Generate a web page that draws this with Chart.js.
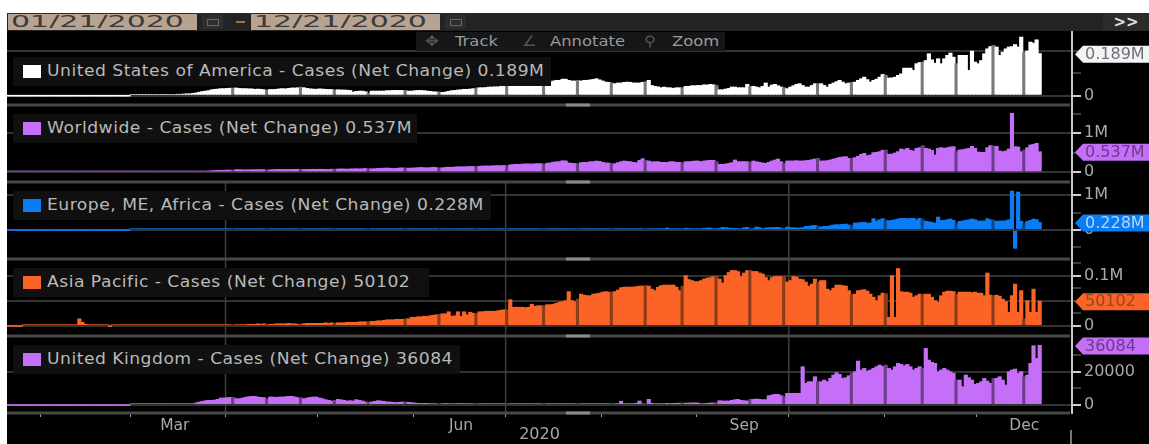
<!DOCTYPE html>
<html>
<head>
<meta charset="utf-8">
<script src="https://cdn.jsdelivr.net/npm/chart.js@4"></script>
<style>
html, body { margin: 0; padding: 0; background: #fff; overflow: hidden; }
#wrap { position: relative; width: 1149px; height: 444px; filter: blur(0.55px); font-family: "DejaVu Sans", sans-serif; }
#fundo { position: absolute; left: 7px; top: 13px; width: 1142px; height: 431px; background: #000; }
canvas { position: absolute; left: 0; top: 0; }
#barra { position: absolute; left: 7px; top: 13px; width: 1142px; height: 18px; background: #232323; border-top: 1px solid #4a2020; box-sizing: border-box; }
.data { position: absolute; top: 14px; height: 16px; background: #b7a390; overflow: hidden; }
.data span { position: absolute; left: 3px; top: -1px; font-size: 15px; line-height: 18px; color: #3a3a3a; transform: scaleX(2); transform-origin: left; white-space: nowrap; }
.cal { position: absolute; top: 15px; width: 21px; height: 14px; background: #2e2e2e; }
.cal i { position: absolute; left: 5px; top: 4px; width: 10px; height: 5px; border: 1px solid #666; }
#traco { position: absolute; left: 236px; top: 21px; width: 9px; height: 2px; background: #a8703a; }
#mais { position: absolute; left: 1103px; top: 14px; width: 46px; height: 17px; background: #2b2b2b; color: #ddd; font-size: 15px; font-weight: bold; line-height: 16px; text-align: center; }
#ferramentas { position: absolute; left: 416px; top: 32px; width: 309px; height: 19px; background: #161616; color: #9a9a9a; font-size: 14.5px; line-height: 19px; }
#ferramentas span { position: absolute; white-space: nowrap; transform: scaleX(1.13); transform-origin: left; }
#ferramentas .ic { color: #555; }
.legenda { position: absolute; left: 13px; height: 29px; background: #101010; color: #b9b9b9; font-size: 15px; line-height: 29px; letter-spacing: 0.42px; white-space: nowrap; }
.legenda b { position: absolute; left: 10px; top: 8px; width: 18px; height: 13px; }
.legenda span { position: absolute; left: 34px; transform: scaleX(1.145); transform-origin: left; }
</style>
</head>
<body>
<div id="wrap">
  <div id="fundo"></div>
  <canvas id="grafico" width="1149" height="444"></canvas>
  <div id="barra"></div>
  <div class="data" style="left:8px;width:189px"><span>01/21/2020</span></div>
  <div class="cal" style="left:202px"><i></i></div>
  <div id="traco"></div>
  <div class="data" style="left:251px;width:189px"><span>12/21/2020</span></div>
  <div class="cal" style="left:445px"><i></i></div>
  <div id="mais">&gt;&gt;</div>
  <div id="ferramentas">
    <span class="ic" style="left:9px">✥</span><span style="left:39px">Track</span>
    <span class="ic" style="left:106px">∠</span><span style="left:134px">Annotate</span>
    <span class="ic" style="left:228px">⚲</span><span style="left:256px">Zoom</span>
  </div>
  <div id="legendas"></div>
</div>
<script>
// um valor por dia, de 21/01/2020 a 21/12/2020
const usaCasos = [ // milhares
  0,0,0,0,0,0,0,0,0,0, 0,0,0,0,0,0,0,0,0,0, 0,0,0,0,0,0,0,0,0,0, 0,0,0,0,0,0,0,0,0,0,
  1,1,1,1,1,1,1,1,2,2, 2,2,3,5,6,8,8,9,10,10, 12,14,17,20,22,24,28,30,31,33,
  33,34,35,36,36,34,33,33,32,32, 30,31,30,28,27,29,29,30,32,33, 32,34,36,36,37,40,37,34,32,31,
  30,32,31,30,29,29,27,28,27,27, 26,25,18,21,22,22,19,13,22,22, 22,22,22,24,24,25,25,25,25,25,
  22,22,24,25,25,24,22,21,19,18, 18,16,18,21,24,25,27,28,30,30, 31,33,36,37,37,38,40,40,41,41,
  43,43,43,47,49,50,50,53,55,56, 58,58,58,61,61,55,61,67,70,70, 75,75,70,67,67,70,67,70,70,72,
  74,77,72,67,62,61,58,55,58,58, 61,62,61,58,58,58,61,64,70,47, 43,41,37,40,37,37,34,37,37,37,
  43,43,46,46,47,47,50,49,52,50, 47,28,28,31,34,40,40,37,37,37, 52,43,43,40,37,43,58,40,49,52,
  46,40,37,33,40,46,52,55,47,40, 40,47,55,55,55,47,40,52,58,64, 70,62,55,58,61,62,70,77,84,73,
  62,70,75,84,96,92,80,81,84,92, 99,124,124,124,114,144,149,151,158,188,
  161,146,166,144,166,181,191,173,144,181, 181,181,114,200,151,144,158,188,210,220,
  225,218,181,195,210,218,220,229,218,262, 195,200,240,235,250,189
];
const mundoCasos = [ // milhares
  1,1,1,1,1,1,2,2,2,2, 3,3,2,3,3,3,3,3,3,3, 3,3,3,3,2,2,2,1,1,1, 1,2,2,2,2,2,2,2,2,2,
  2,3,3,2,3,3,4,5,4,4, 5,6,7,8,10,12,14,15,18,24, 30,32,33,38,40,42,50,55,60,60,
  62,64,66,72,76,78,72,70,72,75, 75,76,78,75,72,70,78,80,84,80, 80,78,82,84,86,84,78,80,84,86,
  84,88,86,82,80,88,90,92,96,94, 90,95,98,100,96,100,106,104,98,102, 108,112,115,118,112,106,110,120,122,118,
  115,118,122,128,134,128,124,130,138,130, 120,125,135,140,138,145,150,150,148,155, 158,160,150,165,170,172,168,175,178,180,
  178,185,170,200,210,215,212,220,225,224, 220,228,232,230,215,240,250,268,280,282, 305,300,250,240,235,230,256,264,264,281,
  281,298,290,264,247,247,230,230,256,281, 298,290,281,264,256,316,358,316,298,273, 281,281,264,264,264,281,281,264,264,247,
  281,281,290,298,298,282,299,308,316,316, 282,214,214,222,239,256,325,282,282,282, 282,265,299,282,265,248,239,265,299,325,
  350,282,239,299,299,299,308,299,299,308, 316,333,350,368,299,299,308,325,350,368, 393,402,410,368,368,385,419,470,496,436,
  453,513,521,539,573,582,470,479,504,539, 607,590,624,573,556,624,641,693,624,607,
  573,453,624,641,624,641,658,667,539,582, 590,607,624,675,624,530,521,521,641,693,
  684,675,556,539,556,607,1522,667,658,539, 582,641,710,727,752,537
];
const emeaCasos = [ // milhares
  0,0,0,0,0,0,0,0,0,0, 0,0,0,0,0,0,0,0,0,0, 0,0,0,0,0,0,0,0,0,0, 0,0,0,0,0,0,0,0,0,0,
  1,1,2,2,2,3,3,4,4,4, 5,5,6,8,10,12,14,16,18,20, 24,26,28,30,30,32,34,34,36,36,
  36,38,38,36,36,36,34,34,34,34, 34,32,32,32,30,30,28,30,28,28, 26,26,28,26,24,24,24,22,24,22,
  22,20,20,20,18,18,18,16,18,18, 18,16,18,16,18,16,16,14,16,16, 18,16,14,16,16,14,14,16,14,14,
  14,16,14,14,16,14,16,16,18,16, 16,18,16,18,18,16,18,20,18,20, 20,18,20,20,18,20,20,22,20,22,
  22,20,22,22,24,22,24,24,22,24, 24,26,24,24,24,26,24,26,28,26, 28,30,28,30,32,28,28,30,32,30,
  30,32,30,30,32,32,30,32,34,32, 30,34,36,36,34,36,38,38,40,40, 38,42,44,50,67,48,44,42,48,56,
  60,52,46,44,46,48,58,67,67,48, 60,58,86,77,67,58,58,48,48,77, 86,60,48,96,77,38,67,77,77,86,
  86,67,60,96,77,77,67,67,77,115, 115,134,144,120,96,115,115,134,154,163, 163,173,182,154,150,211,211,230,230,211,
  211,336,269,307,336,300,278,288,307,326, 345,345,336,345,345,307,345,320,259,250,
  230,211,384,288,288,307,326,288,200,259, 269,288,307,326,307,269,269,269,336,307,
  300,259,269,269,278,307,1133,-538,1104,259, 200,259,288,326,307,228
];
const asiaCasos = [ // milhares
  0,0,0,0,0,1,1,1,1,1, 2,2,2,3,3,3,2,3,3,3, 3,2,3,15,8,4,3,2,1,1, 1,1,1,0,1,1,1,1,1,1,
  1,1,1,1,1,1,1,1,1,1, 1,1,1,1,1,1,1,1,1,1, 1,2,1,2,2,1,2,2,2,2,
  2,2,2,3,3,2,3,3,4,4, 4,5,4,5,4,4,4,5,5,5, 5,6,5,5,4,5,5,6,6,6,
  6,6,6,7,6,7,6,7,7,7, 8,8,8,8,9,9,9,9,10,10, 11,11,12,13,13,13,14,14,14,15,
  15,18,18,19,19,20,20,21,22,23, 24,25,25,29,20,21,29,20,29,23, 28,26,25,29,29,30,30,30,30,31,
  32,33,33,53,38,38,38,38,37,38, 44,40,41,41,41,43,43,44,46,48, 49,51,69,51,49,54,64,62,61,61,
  64,65,66,68,69,68,68,69,72,77, 78,78,78,78,79,80,80,81,80,74, 71,78,81,82,82,82,82,78,71,80,
  101,93,91,89,89,91,94,96,97,99, 101,94,86,101,107,111,111,109,99,106, 111,111,109,109,106,104,97,91,97,99,
  99,99,99,88,91,99,98,94,93,88, 80,84,94,88,91,91,74,71,76,82, 82,81,80,71,64,64,71,72,73,70,
  64,58,51,61,66,65,18,101,18,115, 69,68,68,66,58,61,64,64,64,64,
  58,51,48,61,68,70,70,69,64,68, 68,68,68,67,68,66,66,61,106,62,
  61,62,60,54,49,28,61,84,28,71, 15,51,28,74,28,50.102
];
const ukCasos = [
  0,0,0,0,0,0,0,0,0,0, 0,0,0,0,0,0,0,0,0,0, 0,0,0,0,0,0,0,0,0,0, 0,0,0,0,0,0,0,0,0,0,
  10,10,20,30,50,50,70,90,100,120, 150,180,200,250,300,350,400,600,700,800,
  1000,1500,2000,2400,2800,3000,3000,3200,3600,4400, 4400,4600,4800,4800,4000,4000,4400,4800,5200,5400,
  5400,5000,4800,4600,4000,5000,5000,4800,5000,5000, 5200,5400,5400,5000,4600,4600,4000,4400,4800,5000,
  5000,4400,4000,3400,3000,2600,3000,3600,3400,3000, 2600,2800,2600,3400,3000,2600,2000,2000,2000,2400,
  2800,2600,2400,2000,2000,1800,1600,1800,2000,2000, 1800,1600,1400,1200,1200,1200,1200,1000,1000,900,
  900,1000,1100,900,800,900,1000,1100,1000,900, 800,700,800,900,800,700,700,800,700,600,
  600,700,600,500,600,500,600,600,700,600, 600,700,600,500,600,600,700,600,700,700,
  800,700,600,700,600,600,700,600,600,600, 500,600,600,600,700,600,500,400,600,2400,
  1000,900,800,1000,1200,2600,800,700,3600,1200, 1000,900,1000,1000,1200,1000,1200,1200,1300,1400,
  1300,1400,1400,1500,1400,800,1000,1200,1400,1400, 1600,2800,2600,2600,2600,3000,3400,3600,3000,2800,
  2600,3600,3600,3800,3600,3400,3400,5800,6200,6600, 6600,5800,5200,7200,7200,7200,7200,7200,23200,13200,
  14200,14200,17200,14200,14200,15200,14200,16200,18200,19600, 18600,16200,16600,17800,19200,20200,26600,21200,22200,20600,
  21200,22200,23200,24200,23400,24200,22200,21200,23200,25200, 24600,23800,24600,23200,21200,22200,23200,22200,34200,27200,
  25800,25200,20200,21200,22200,21200,20200,19200,15200,15200, 11200,18200,16600,15200,12600,13200,14200,16200,14600,13200,
  16200,16200,17200,15200,12200,20200,21200,21800,19200,20200, 17200,18200,25200,35800,28200,36084
];

// dias em que a barra aparece como um corte escuro
const diasCorte = [73,84,95,106,117,129,140,152,162,174,185,196,207,219,230,241,252,263,274,285,297,308,320,330];

const inicio = new Date(2020, 0, 21);
const dias = [];
for (let i = 0; i < 346; i++) {
    const d = new Date(inicio.getTime());
    d.setDate(d.getDate() + i);
    dias.push(`${d.getMonth() + 1}/${d.getDate()}`);
}
const inicioMes = ['2/1','3/1','4/1','5/1','6/1','7/1','8/1','9/1','10/1','11/1','12/1'];
const inicioTrimestre = ['4/1','7/1','10/1'];
const rotulosMes = { '3/15': 'Mar', '6/16': 'Jun', '9/16': 'Sep', '12/16': 'Dec' };

const paineis = [
    { id: 'usa', nome: 'United States of America - Cases (Net Change) 0.189M', casos: usaCasos, cor: '#ffffff', corte: '#7a7a7a',
      tag: '0.189M', tagCor: '#f4f4f4', tagTexto: '#6d7079', min: -41.3, max: 287.6, peso: 74,
      ticks: [0, 100, 200], rotulos: ['0', '', ''], grade: [0, 200], caixa: [57, 538] },
    { id: 'mundo', nome: 'Worldwide - Cases (Net Change) 0.537M', casos: mundoCasos, cor: '#c56ef7', corte: '#6c3f88',
      tag: '0.537M', tagCor: '#c56ef7', tagTexto: '#6a3a8c', min: -249, max: 1726, peso: 77,
      ticks: [0, 500, 1000, 1500], rotulos: ['0', '', '1M', ''], grade: [0, 1000], caixa: [114, 404] },
    { id: 'emea', nome: 'Europe, ME, Africa - Cases (Net Change) 0.228M', casos: emeaCasos, cor: '#0a7cf5', corte: '#0a4488',
      tag: '0.228M', tagCor: '#0a7cf5', tagTexto: '#b8d6f8', min: -836, max: 1383, peso: 77,
      ticks: [-500, 0, 500, 1000], rotulos: ['', '0', '', '1M'], grade: [0, 1000], caixa: [191, 478] },
    { id: 'asia', nome: 'Asia Pacific - Cases (Net Change) 50102', casos: asiaCasos, cor: '#fb6426', corte: '#8a3c1a',
      tag: '50102', tagCor: '#fb6426', tagTexto: '#8a4a22', min: -19.9, max: 133.2, peso: 77,
      ticks: [0, 25, 50, 75, 100, 125], rotulos: ['0', '', '', '', '0.1M', ''], grade: [0, 50, 100], caixa: [268, 416] },
    { id: 'uk', nome: 'United Kingdom - Cases (Net Change) 36084', casos: ukCasos, cor: '#c56ef7', corte: '#6c3f88',
      tag: '36084', tagCor: '#c56ef7', tagTexto: '#6a3a8c', min: -4805, max: 41441, peso: 77,
      ticks: [0, 10000, 20000, 30000], rotulos: ['0', '', '20000', ''], grade: [0, 20000], caixa: [345, 447] },
];

// legendas por cima do painel
const legendas = document.getElementById('legendas');
paineis.forEach((p) => {
    const div = document.createElement('div');
    div.className = 'legenda';
    div.style.top = p.caixa[0] + 'px';
    div.style.width = p.caixa[1] + 'px';
    div.innerHTML = `<b style="background:${p.cor}"></b><span>${p.nome}</span>`;
    legendas.appendChild(div);
});

const escalas = {
    x: {
        type: 'category',
        afterFit: (s) => { s.height = 31; },
        grid: {
            drawOnChartArea: false,
            tickLength: 4,
            tickColor: (ctx) => (ctx.tick && inicioMes.includes(dias[ctx.tick.value]) ? '#a0a0a0' : 'transparent'),
        },
        border: { display: false },
        ticks: {
            autoSkip: false, maxRotation: 0, padding: 0,
            color: '#a8a8a8', font: { family: 'DejaVu Sans', size: 15.5 },
            callback: (v) => rotulosMes[dias[v]] || '',
        },
        title: { display: true, text: '2020', color: '#a8a8a8', font: { family: 'DejaVu Sans', size: 16 }, padding: { top: 3, bottom: 0 } },
    },
};
paineis.forEach((p, n) => {
    escalas[p.id] = {
        type: 'linear', position: 'right', stack: 'paineis', stackWeight: p.peso, weight: n,
        min: p.min, max: p.max,
        afterFit: (s) => { s.width = 77; },
        afterBuildTicks: (s) => { s.ticks = p.ticks.map((v) => ({ value: v })); },
        border: { color: '#c8c8c8', width: 2 },
        grid: {
            tickLength: 9,
            color: (ctx) => (ctx.tick && p.grade.includes(ctx.tick.value) ? '#333333' : 'transparent'),
            lineWidth: 2,
            tickColor: (ctx) => (p.rotulos[ctx.index] ? '#d0d0d0' : '#777777'),
            tickWidth: (ctx) => (p.rotulos[ctx.index] ? 2 : 1),
        },
        ticks: {
            autoSkip: false, padding: 3, color: '#a8a8a8',
            font: { family: 'DejaVu Sans', size: 16 },
            callback: (v, i) => p.rotulos[i],
        },
    };
});

// divisores, linhas dos trimestres e etiquetas do ultimo valor
const moldura = {
    id: 'moldura',
    beforeDatasetsDraw(chart) {
        const c = chart.ctx;
        c.save();
        c.strokeStyle = '#3e3e3e';
        c.lineWidth = 1.5;
        inicioTrimestre.forEach((d) => {
            const x = chart.scales.x.getPixelForValue(dias.indexOf(d)) - chart.scales.x.width / 692;
            c.beginPath();
            c.moveTo(x, chart.scales.emea.top);
            c.lineTo(x, chart.scales.uk.bottom);
            c.stroke();
        });
        c.restore();
    },
    afterDatasetsDraw(chart) {
        const c = chart.ctx;
        c.save();
        const area = chart.chartArea;
        paineis.forEach((p) => {
            const y = chart.scales[p.id].bottom;
            c.fillStyle = '#484848';
            c.fillRect(7, y - 1.5, area.right - 9, 3);
            c.fillStyle = '#8a8a8a';
            c.fillRect(566, y - 1.5, 24, 3);
        });
        c.fillStyle = '#777';
        c.fillRect(1070, 430, 2, 14);
        paineis.forEach((p) => {
            const y = chart.scales[p.id].getPixelForValue(p.casos[p.casos.length - 1]) + 1;
            c.fillStyle = p.tagCor;
            c.beginPath();
            c.moveTo(1075, y);
            c.lineTo(1083, y - 8.5);
            c.lineTo(1149, y - 8.5);
            c.lineTo(1149, y + 8.5);
            c.lineTo(1083, y + 8.5);
            c.closePath();
            c.fill();
            c.fillStyle = p.tagTexto;
            c.font = '16px "DejaVu Sans"';
            c.textBaseline = 'middle';
            c.fillText(p.tag, 1085, y + 0.5);
        });
        c.restore();
    },
};

new Chart(document.getElementById('grafico'), {
    type: 'bar',
    data: {
        labels: dias,
        datasets: paineis.map((p) => ({
            label: p.nome,
            data: p.casos,
            yAxisID: p.id,
            grouped: false,
            barPercentage: 1.35,
            categoryPercentage: 1,
            minBarLength: 1.6,
            borderWidth: 0,
            backgroundColor: (ctx) => (diasCorte.includes(ctx.dataIndex) ? p.corte : p.cor),
        })),
    },
    options: {
        responsive: false,
        animation: false,
        layout: { padding: { left: 7, top: 31, right: 0, bottom: 0 } },
        plugins: { legend: { display: false }, tooltip: { enabled: false } },
        scales: escalas,
    },
    plugins: [moldura],
});
</script>
</body>
</html>
